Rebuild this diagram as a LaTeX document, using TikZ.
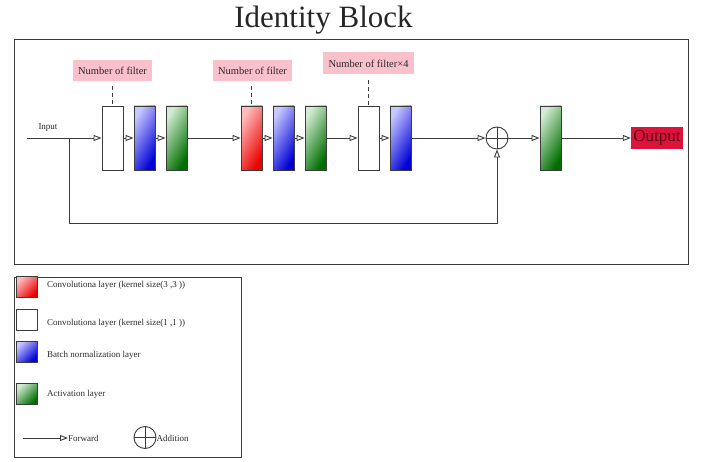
\documentclass[tikz,border=0pt]{standalone}
\usepackage{fontspec}
\setmainfont{Liberation Serif}
\usetikzlibrary{arrows.meta,calc}
\definecolor{edge}{RGB}{60,60,60}
\definecolor{txt}{RGB}{40,40,40}
\definecolor{labelpink}{RGB}{250,192,203}
\definecolor{outred}{RGB}{220,20,60}
\definecolor{outtxt}{RGB}{80,0,20}
\definecolor{redL}{RGB}{255,190,190}
\definecolor{redD}{RGB}{235,0,0}
\definecolor{blueL}{RGB}{200,200,255}
\definecolor{blueD}{RGB}{0,0,215}
\definecolor{greenL}{RGB}{210,235,210}
\definecolor{greenD}{RGB}{0,110,0}
\tikzset{
  blk/.style={draw=edge, line width=0.9pt, minimum width=21pt, minimum height=64pt, inner sep=0pt},
  wblk/.style={blk, fill=white},
  rblk/.style={blk, top color=redL, bottom color=redD, shading angle=60},
  bblk/.style={blk, top color=blueL, bottom color=blueD, shading angle=60},
  gblk/.style={blk, top color=greenL, bottom color=greenD, shading angle=60},
  lsq/.style={draw=edge, line width=0.9pt, minimum width=21pt, minimum height=21pt, inner sep=0pt},
  fw/.style={draw=edge, line width=0.9pt, -{Triangle[open, length=8pt, width=6pt, line width=0.9pt]}},
  ln/.style={draw=edge, line width=0.9pt},
  nlab/.style={fill=labelpink, text=txt, inner sep=0pt, minimum height=21pt, font=\fontsize{10.5}{10.5}\selectfont},
  dsh/.style={draw=edge, line width=0.9pt, dash pattern=on 4pt off 3pt},
  legtxt/.style={anchor=west, text=txt, inner sep=0pt, font=\fontsize{9}{9}\selectfont},
  addc/.style={circle, draw=edge, line width=0.9pt, minimum size=22pt, inner sep=0pt},
}
\begin{document}
\begin{tikzpicture}[x=1pt, y=-1pt]
\useasboundingbox (0,0) rectangle (703,462);
% title
\node[anchor=base, inner sep=0pt, font=\fontsize{31}{31}\selectfont, text=black!85] (title) at (323.5,28) {Identity Block};
% main frame
\node[draw=edge, line width=1pt, minimum width=674pt, minimum height=224pt, inner sep=0pt] (frame) at (351,152) {};
% blocks
\node[wblk] (b1) at (112.5,138) {};
\node[bblk] (b2) at (144.5,138) {};
\node[gblk] (b3) at (176.5,138) {};
\node[rblk] (b4) at (251.5,138) {};
\node[bblk] (b5) at (283.5,138) {};
\node[gblk] (b6) at (315.5,138) {};
\node[wblk] (b7) at (368.5,138) {};
\node[bblk] (b8) at (400.5,138) {};
\node[addc] (add) at (497,138) {};
\draw[ln] (add.north) -- (add.south) (add.west) -- (add.east);
\node[gblk] (b9) at (550.5,138) {};
\node[fill=outred, text=outtxt, inner sep=0pt, minimum width=52pt, minimum height=22pt, font=\fontsize{17}{17}\selectfont] (out) at (657,138) {Output};
% input
\node[anchor=base, inner sep=0pt, text=txt, font=\fontsize{9}{9}\selectfont] (inlab) at (48,130) {Input};
\coordinate (in) at (27,138);
\coordinate (br) at (69,138);
\coordinate (c1) at (69,223);
\coordinate (c2) at (497,223);
% connectors
\draw[fw] (in) -- (b1.west);
\draw[fw] (b1.east) -- (b2.west);
\draw[fw] (b2.east) -- (b3.west);
\draw[fw] (b3.east) -- (b4.west);
\draw[fw] (b4.east) -- (b5.west);
\draw[fw] (b5.east) -- (b6.west);
\draw[fw] (b6.east) -- (b7.west);
\draw[fw] (b7.east) -- (b8.west);
\draw[fw] (b8.east) -- (add.west);
\draw[fw] (add.east) -- (b9.west);
\draw[fw] (b9.east) -- (out.west);
\draw[fw] (br) -- (c1) -- (c2) -- (add.south);
% labels
\node[nlab, minimum width=79pt] (l1) at (112.5,70.5) {Number of filter};
\node[nlab, minimum width=79pt] (l2) at (252.5,70.5) {Number of filter};
\node[nlab, minimum width=91pt, minimum height=22pt] (l3) at (368.5,63.5) {Number of filter×4};
\draw[dsh] ([yshift=-5pt]l1.south) -- (b1.north);
\draw[dsh] ([yshift=-5pt]l2.south -| b4.north) -- (b4.north);
\draw[dsh] ([yshift=-5pt]l3.south) -- (b7.north);
% legend
\node[draw=edge, line width=1pt, minimum width=227pt, minimum height=180pt, inner sep=0pt] (legend) at (127.5,367) {};
\node[lsq, top color=redL, bottom color=redD, shading angle=45] (s1) at (26.5,287) {};
\node[lsq, fill=white] (s2) at (26.5,319.5) {};
\node[lsq, top color=blueL, bottom color=blueD, shading angle=45] (s3) at (26.5,351.5) {};
\node[lsq, top color=greenL, bottom color=greenD, shading angle=45] (s4) at (26.5,394) {};
\node[legtxt] (t1) at (47,285) {Convolutiona layer (kernel size(3 ,3 ))};
\node[legtxt] (t2) at (47,323) {Convolutiona layer (kernel size(1 ,1 ))};
\node[legtxt] (t3) at (47,355) {Batch normalization layer};
\node[legtxt] (t4) at (47,394) {Activation layer};
\coordinate (f0) at (23,438);
\node[legtxt] (ftxt) at (68,438) {Forward};
\draw[fw] (f0) -- (ftxt.west);
\node[addc] (ladd) at (145,437.5) {};
\draw[ln] (ladd.north) -- (ladd.south) (ladd.west) -- (ladd.east);
\node[legtxt] (atxt) at (156.5,438) {Addition};
\end{tikzpicture}
\end{document}
